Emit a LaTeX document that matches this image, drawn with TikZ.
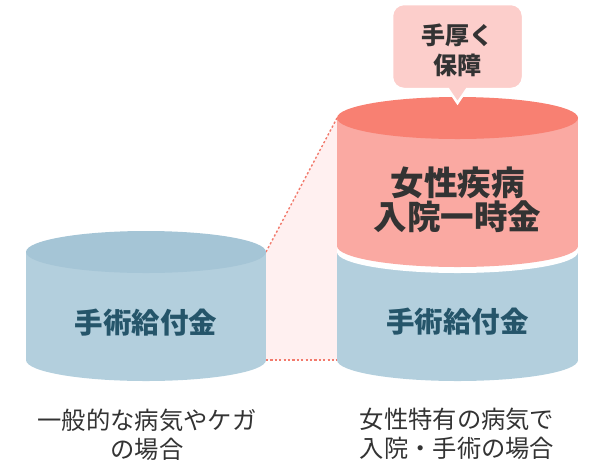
\documentclass[tikz,border=0pt]{standalone}
\usepackage{fontspec}
\setmainfont{Noto Sans CJK JP}
\usetikzlibrary{positioning}
\definecolor{potblue}{HTML}{B3CFDD}
\definecolor{potbluetop}{HTML}{A5C5D6}
\definecolor{potred}{HTML}{FAA9A2}
\definecolor{potredtop}{HTML}{F88072}
\definecolor{tipfill}{HTML}{FCCECB}
\definecolor{linkred}{HTML}{F27A6C}
\definecolor{linkfill}{HTML}{FFF0F0}
\definecolor{potink}{HTML}{25556A}
\definecolor{textgrey}{HTML}{333333}

\begin{document}
\begin{tikzpicture}[x=1pt,y=-1pt,
    potlabel/.style={font=\bfseries\fontsize{28.5}{28.5}\selectfont, text=potink},
    biglabel/.style={font=\bfseries\fontsize{33.5}{34}\selectfont, text=textgrey, align=center},
    caption/.style={font=\fontsize{24.3}{29}\selectfont, text=textgrey, align=center},
    tiplabel/.style={font=\bfseries\fontsize{24}{30}\selectfont, text=textgrey, align=center},
    link/.style={linkred, line width=1.4pt, dash pattern=on 2.2pt off 2.2pt}]
    \useasboundingbox (0,0) rectangle (604,464);
    % corners of the two pots
    \coordinate (smalltop) at (266,252);
    \coordinate (smallbot) at (266,360);
    \coordinate (bigtop) at (337,118);
    \coordinate (bigbot) at (337,360);
    % zoom band
    \fill[linkfill] (smalltop) -- (bigtop) -- (bigbot) -- (smallbot) -- cycle;
    \draw[link] (smalltop) -- (bigtop);
    \draw[link] (smallbot) -- (bigbot);
    % left pot
    \fill[potblue] (146,360) ellipse[x radius=120,y radius=21];
    \fill[potblue] (26,252) rectangle (266,360);
    \fill[potbluetop] (146,252) ellipse[x radius=120,y radius=21];
    \node[potlabel] (leftpay) at (146,323) {手術給付金};
    % right pot, blue part
    \fill[potblue] (457.5,360) ellipse[x radius=120.5,y radius=21];
    \fill[potblue] (337,252) rectangle (578,360);
    \fill[white] (457.5,252) ellipse[x radius=120.5,y radius=21];
    % right pot, red part
    \fill[potred] (457.5,246) ellipse[x radius=120.5,y radius=21];
    \fill[potred] (337,118) rectangle (578,246);
    \fill[potredtop] (457.5,118) ellipse[x radius=120.5,y radius=21];
    \node[biglabel] (extra) at (457.5,200) {女性疾病\\入院一時金};
    \node[potlabel] (rightpay) at (457.5,322) {手術給付金};
    % callout
    \draw[white, line width=2.5pt, fill=tipfill]
        (457.5,103) -- (448,89) [rounded corners=12pt] -- (392,89) -- (392,4)
        -- (523,4) -- (523,89) [sharp corners] -- (467,89) -- cycle;
    \node[tiplabel] (tip) at (457.5,50) {手厚く\\保障};
    % captions
    \node[caption] (leftcap) at (147,435) {一般的な病気やケガ\\の場合};
    \node[caption] (rightcap) at (457,434) {女性特有の病気で\\入院・手術の場合};
\end{tikzpicture}
\end{document}
